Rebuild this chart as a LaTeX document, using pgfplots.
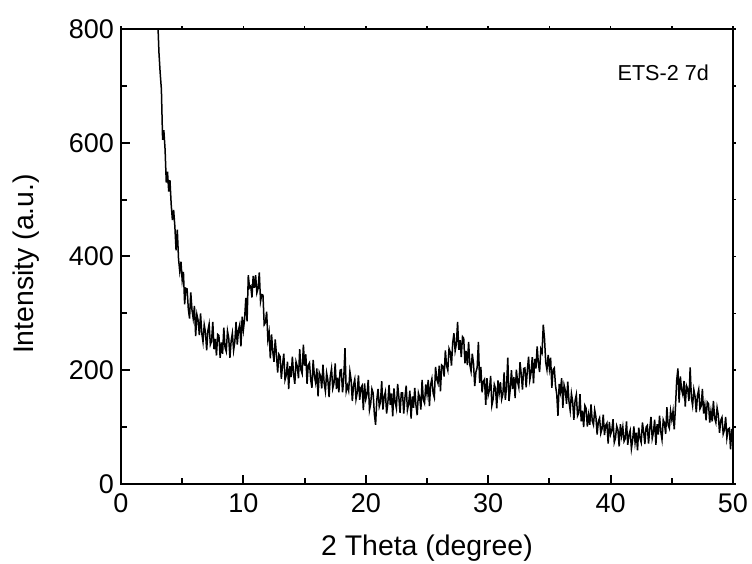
\documentclass[border=0pt]{standalone}
\usepackage{fontspec}
\setmainfont{Liberation Sans}
\usepackage{pgfplots}
\usepackage{pgfplotstable}
\pgfplotsset{compat=1.18}
\pgfplotstableread{
x y
3.0 817
3.1 759
3.2 723
3.3 694
3.4 605
3.5 622
3.6 589
3.7 530
3.8 549
3.9 514
4.0 534
4.1 492
4.2 464
4.3 482
4.4 453
4.5 411
4.6 447
4.7 396
4.8 374
4.9 391
5.0 358
5.1 373
5.2 316
5.3 344
5.4 343
5.5 308
5.6 291
5.7 337
5.8 306
5.9 291
6.0 313
6.1 260
6.2 298
6.3 288
6.4 262
6.5 300
6.6 265
6.7 250
6.8 280
6.9 267
7.0 235
7.1 270
7.2 281
7.3 245
7.4 251
7.5 285
7.6 237
7.7 255
7.8 226
7.9 263
8.0 261
8.1 222
8.2 249
8.3 229
8.4 275
8.5 240
8.6 233
8.7 269
8.8 257
8.9 222
9.0 252
9.1 265
9.2 235
9.3 250
9.4 285
9.5 245
9.6 271
9.7 280
9.8 242
9.9 294
10.0 271
10.1 291
10.2 327
10.3 286
10.4 367
10.5 345
10.6 348
10.7 328
10.8 366
10.9 345
11.0 367
11.1 336
11.2 344
11.3 372
11.4 321
11.5 333
11.6 332
11.7 280
11.8 284
11.9 303
12.0 254
12.1 267
12.2 221
12.3 263
12.4 233
12.5 215
12.6 254
12.7 228
12.8 196
12.9 228
13.0 224
13.1 185
13.2 210
13.3 229
13.4 183
13.5 191
13.6 215
13.7 167
13.8 207
13.9 188
14.0 224
14.1 193
14.2 176
14.3 215
14.4 207
14.5 186
14.6 237
14.7 201
14.8 194
14.9 245
15.0 208
15.1 228
15.2 176
15.3 209
15.4 213
15.5 183
15.6 169
15.7 218
15.8 190
15.9 178
16.0 203
16.1 154
16.2 196
16.3 190
16.4 168
16.5 210
16.6 177
16.7 163
16.8 195
16.9 183
17.0 153
17.1 189
17.2 203
17.3 168
17.4 177
17.5 212
17.6 167
17.7 187
17.8 161
17.9 200
18.0 201
18.1 161
18.2 186
18.3 239
18.4 163
18.5 173
18.6 164
18.7 198
18.8 183
18.9 146
19.0 174
19.1 184
19.2 149
19.3 161
19.4 191
19.5 148
19.6 169
19.7 173
19.8 130
19.9 177
20.0 149
20.1 158
20.2 183
20.3 130
20.4 141
20.5 167
20.6 160
20.7 123
20.8 104
20.9 148
21.0 167
21.1 136
21.2 144
21.3 181
21.4 131
21.5 153
21.6 162
21.7 124
21.8 142
21.9 174
22.0 139
22.1 159
22.2 119
22.3 168
22.4 144
22.5 133
22.6 176
22.7 153
22.8 125
22.9 160
23.0 160
23.1 124
23.2 152
23.3 173
23.4 130
23.5 141
23.6 164
23.7 115
23.8 154
23.9 134
24.0 169
24.1 138
24.2 121
24.3 160
24.4 152
24.5 131
24.6 183
24.7 148
24.8 142
24.9 175
25.0 158
25.1 183
25.2 137
25.3 175
25.4 185
25.5 160
25.6 152
25.7 206
25.8 184
25.9 177
26.0 208
26.1 163
26.2 209
26.3 207
26.4 189
26.5 235
26.6 208
26.7 200
26.8 238
26.9 232
27.0 208
27.1 248
27.2 265
27.3 234
27.4 246
27.5 285
27.6 236
27.7 253
27.8 223
27.9 259
28.0 256
28.1 212
28.2 234
28.3 209
28.4 250
28.5 210
28.6 198
28.7 229
28.8 212
28.9 172
29.0 197
29.1 205
29.2 250
29.3 178
29.4 206
29.5 161
29.6 180
29.7 184
29.8 139
29.9 186
30.0 156
30.1 165
30.2 190
30.3 138
30.4 149
30.5 175
30.6 168
30.7 133
30.8 182
30.9 160
31.0 179
31.1 149
31.2 158
31.3 196
31.4 148
31.5 171
31.6 222
31.7 146
31.8 166
31.9 200
32.0 167
32.1 188
32.2 151
32.3 201
32.4 180
32.5 170
32.6 214
32.7 193
32.8 166
32.9 203
33.0 204
33.1 170
33.2 200
33.3 224
33.4 183
33.5 196
33.6 223
33.7 177
33.8 220
33.9 203
34.0 242
34.1 212
34.2 197
34.3 237
34.4 231
34.5 280
34.6 256
34.7 214
34.8 201
34.9 227
35.0 203
35.1 222
35.2 169
35.3 201
35.4 204
35.5 173
35.6 158
35.7 120
35.8 176
35.9 162
36.0 186
36.1 134
36.2 174
36.3 165
36.4 141
36.5 180
36.6 145
36.7 129
36.8 159
36.9 145
37.0 113
37.1 147
37.2 157
37.3 120
37.4 125
37.5 158
37.6 110
37.7 129
37.8 100
37.9 138
38.0 133
38.1 101
38.2 121
38.3 104
38.4 140
38.5 111
38.6 104
38.7 130
38.8 118
38.9 87
39.0 110
39.1 116
39.2 89
39.3 97
39.4 122
39.5 86
39.6 103
39.7 107
39.8 71
39.9 109
40.0 87
40.1 94
40.2 114
40.3 73
40.4 81
40.5 102
40.6 95
40.7 66
40.8 105
40.9 85
41.0 100
41.1 75
41.2 80
41.3 110
41.4 69
41.5 86
41.6 94
41.7 62
41.8 77
41.9 101
42.0 73
42.1 90
42.2 59
42.3 99
42.4 81
42.5 73
42.6 108
42.7 92
42.8 70
42.9 100
43.0 103
43.1 71
43.2 97
43.3 118
43.4 80
43.5 91
43.6 113
43.7 69
43.8 105
43.9 87
44.0 120
44.1 92
44.2 78
44.3 113
44.4 107
44.5 88
44.6 135
44.7 104
44.8 98
44.9 128
45.0 113
45.1 128
45.2 96
45.3 135
45.4 182
45.5 203
45.6 143
45.7 189
45.8 166
45.9 157
46.0 181
46.1 136
46.2 173
46.3 167
46.4 146
46.5 205
46.6 152
46.7 138
46.8 166
46.9 154
47.0 126
47.1 156
47.2 166
47.3 132
47.4 137
47.5 167
47.6 124
47.7 139
47.8 112
47.9 144
48.0 141
48.1 108
48.2 128
48.3 110
48.4 146
48.5 116
48.6 108
48.7 134
48.8 121
48.9 90
49.0 112
49.1 117
49.2 88
49.3 95
49.4 118
49.5 81
49.6 96
49.7 98
49.8 61
49.9 97
50.0 73
}\xrd
\begin{document}
\begin{tikzpicture}
\begin{axis}[
  name=main,
  scale only axis,
  width=306pt, height=227.5pt,
  xmin=0, xmax=50, ymin=0, ymax=800,
  xtick={0,10,...,50}, ytick={0,200,...,800},
  minor x tick num=1, minor y tick num=1,
  tick align=inside,
  xtick pos=left, ytick pos=left,
  major tick length=4.5pt, minor tick length=2.8pt,
  axis line style={line width=1pt},
  tick style={line width=1pt, black},
  /pgf/number format/assume math mode=true,
  ticklabel style={font=\fontsize{13.5}{15}\selectfont},
  xticklabel style={yshift=-1.5pt},
  xlabel={2 Theta (degree)},
  ylabel={Intensity (a.u.)},
  label style={font=\fontsize{14.2}{17}\selectfont},
  xlabel style={at={(axis description cs:0.5,-0.141)}, anchor=center},
  ylabel style={at={(axis description cs:-0.155,0.4835)}, anchor=center},
]
\addplot[black, line width=0.75pt] table[x=x, y=y]{\xrd};
\node[font=\fontsize{10.8}{13}\selectfont] at (axis cs:44.3,723) {ETS-2 7d};
\end{axis}
\begin{axis}[
  at={(main.south west)}, anchor=south west,
  scale only axis,
  width=306pt, height=227.5pt,
  xmin=0, xmax=50, ymin=0, ymax=800,
  axis line style={draw=none},
  xtick={0,10,...,50}, ytick={0,200,...,800},
  minor x tick num=1, minor y tick num=1,
  xtick pos=right, ytick pos=right,
  tick align=outside,
  major tick length=1.5pt, minor tick length=1.5pt,
  tick style={line width=0.8pt, black},
  xticklabels={}, yticklabels={},
]
\end{axis}
\pgfresetboundingbox
\useasboundingbox ([xshift=-60.5pt,yshift=-40pt]main.south west) rectangle ([xshift=9.5pt,yshift=14.5pt]main.north east);
\end{tikzpicture}
\end{document}
